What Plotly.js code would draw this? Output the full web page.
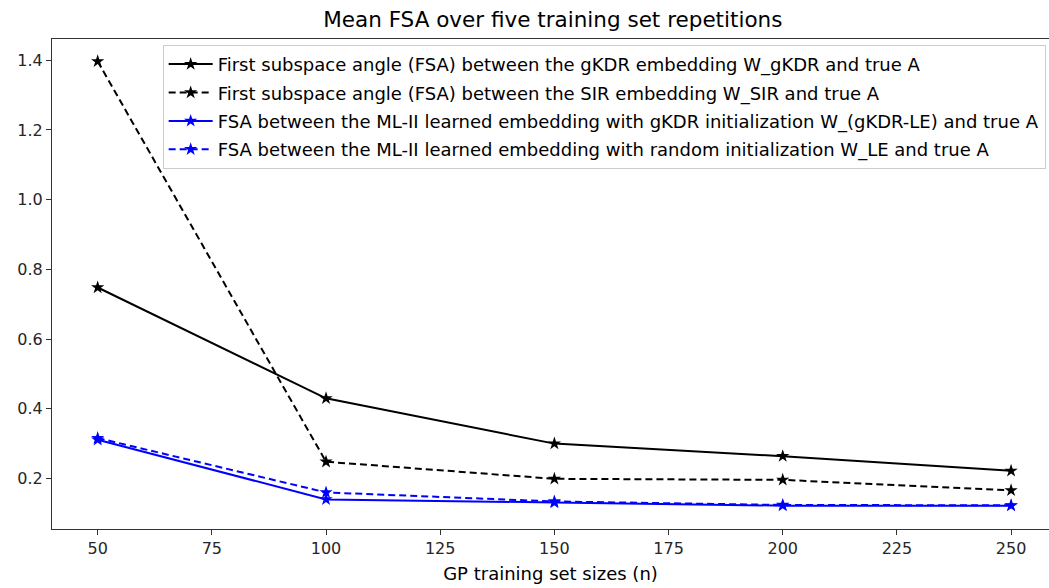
<!DOCTYPE html>
<html>
<head>
<meta charset="utf-8">
<script src="https://cdn.plot.ly/plotly-3.0.1.min.js"></script>
<style>
html,body{margin:0;padding:0;background:#fff;}
#chart{width:1049px;height:588px;}
</style>
</head>
<body>
<div id="chart"></div>
<script>
var sizes = [50, 100, 150, 200, 250];
var fsaGKDR = [0.748, 0.430, 0.300, 0.264, 0.222];
var fsaSIR = [1.397, 0.248, 0.199, 0.196, 0.166];
var fsaGKDRLE = [0.311, 0.140, 0.131, 0.122, 0.122];
var fsaLE = [0.316, 0.160, 0.134, 0.124, 0.123];
var names = [
  "First subspace angle (FSA) between the gKDR embedding W_gKDR and true A",
  "First subspace angle (FSA) between the SIR embedding W_SIR and true A",
  "FSA between the ML-II learned embedding with gKDR initialization W_(gKDR-LE) and true A",
  "FSA between the ML-II learned embedding with random initialization W_LE and true A"
];
var xTicks = [50, 75, 100, 125, 150, 175, 200, 225, 250];
var yTicks = [0.2, 0.4, 0.6, 0.8, 1.0, 1.2, 1.4];

function tr(y, name, color, dash, g) {
  return {
    x: sizes, y: y, name: name, type: 'scatter', mode: 'lines+markers',
    legendgroup: g,
    line: {color: color, width: 2, dash: dash},
    marker: {symbol: 'star', size: 10, color: color}
  };
}
var data = [
  tr(fsaGKDR, names[0], '#000000', 'solid', 'a'),
  tr(fsaSIR, names[1], '#000000', '7px,4px', 'b'),
  tr(fsaGKDRLE, names[2], '#0000ff', 'solid', 'c'),
  tr(fsaLE, names[3], '#0000ff', '7px,4px', 'd')
];
var font = 'DejaVu Sans, sans-serif';
var layout = {
  width: 1049, height: 588,
  margin: {l: 52, r: 0, t: 39, b: 59},
  paper_bgcolor: '#fff', plot_bgcolor: '#fff',
  font: {family: font, size: 16, color: '#262626'},
  title: {text: 'Mean FSA over five training set repetitions', x: 0.527, xanchor: 'center', y: 0.967, yanchor: 'middle', font: {family: font, size: 21.5, color: '#000'}},
  xaxis: {
    range: [40, 258.3], tickvals: xTicks, ticktext: xTicks.map(String),
    showgrid: false, zeroline: false, showline: true, mirror: true, linecolor: '#333', linewidth: 1,
    ticks: 'outside', ticklen: 5, tickcolor: '#333',
    tickfont: {family: font, size: 16, color: '#262626'},
    title: {text: 'GP training set sizes (n)', standoff: 10, font: {family: font, size: 18, color: '#000'}}
  },
  yaxis: {
    range: [0.055, 1.461], tickvals: yTicks, ticktext: yTicks.map(function(v){return v.toFixed(1);}),
    showgrid: false, zeroline: false, showline: true, linecolor: '#333', linewidth: 1,
    ticks: 'outside', ticklen: 5, tickcolor: '#333',
    tickfont: {family: font, size: 16, color: '#262626'}
  },
  showlegend: true,
  legend: {
    x: 0.111, y: 0.988, xanchor: 'left', yanchor: 'top',
    bgcolor: 'rgba(255,255,255,0.8)', bordercolor: '#cccccc', borderwidth: 1,
    font: {family: font, size: 18, color: '#000'},
    tracegroupgap: 2, itemwidth: 44
  }
};
Plotly.newPlot('chart', data, layout, {displayModeBar: false, staticPlot: true});
</script>
</body>
</html>
